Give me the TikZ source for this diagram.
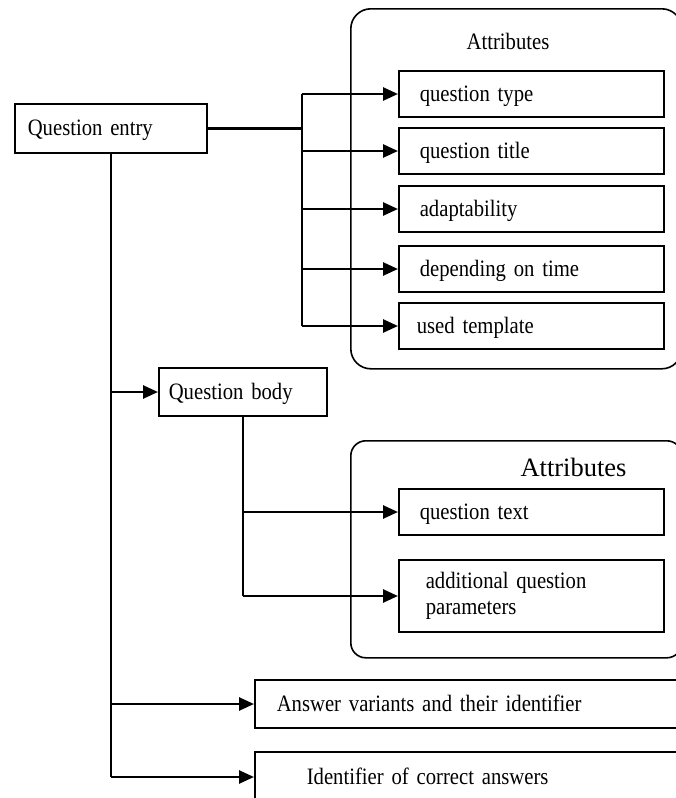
\documentclass[tikz,border=0pt]{standalone}
\usepackage{fontspec}
\setmainfont{Liberation Serif}[FakeStretch=0.88,WordSpace=0.82]
\newfontfamily\attfont{Liberation Serif}
\usetikzlibrary{arrows.meta}
\begin{document}
\begin{tikzpicture}[x=1pt,y=-1pt,
  base/.style={draw, line width=1.6pt, rectangle, inner ysep=0pt, align=left, anchor=west,
     font=\fontsize{23.5}{25.7}\selectfont},
  onel/.style={base, text height=16pt, text depth=2pt},
  abox/.style={onel, inner xsep=21pt, text width=223pt, minimum height=46pt},
  group/.style={draw, line width=1.6pt, rounded corners=#1, anchor=north west, inner sep=0pt},
  conn/.style={line width=2.6pt},
  arr/.style={conn, -{Triangle[length=15pt,width=13pt]}},
  title/.style={inner sep=0pt, font=\fontsize{23.5}{25}\selectfont}
]
\useasboundingbox (0,0) rectangle (676,798);
\clip (0,0) rectangle (676,798);

% containers
\node[group=20pt, minimum width=331pt, minimum height=360pt] (grp1) at (350,8) {};
\node[group=15pt, minimum width=331pt, minimum height=217pt] (grp2) at (350,440) {};
\node[title, anchor=base] (att1) at (508,49) {Attributes};
\node[title, font=\attfont\fontsize{26.5}{30}\selectfont, anchor=base] (att2) at (573.5,476) {Attributes};

% main boxes
\node[onel, inner xsep=13pt, text width=166pt, minimum height=49pt] (qentry) at (14,128.5) {Question entry};
\node[onel, inner xsep=10pt, text width=148pt, minimum height=48pt] (qbody) at (158,392) {Question body};

% attribute boxes
\node[abox] (qtype) at (398,94) {question type};
\node[abox] (qtitle) at (398,151) {question title};
\node[abox] (adapt) at (398,209) {adaptability};
\node[abox] (dep) at (398,269) {depending on time};
\node[abox, inner xsep=18pt, text width=229pt] (used) at (398,326) {used template};

\node[abox] (qtext) at (398,512) {question text};
\node[base, inner xsep=27pt, text width=211pt, minimum height=72pt] (addp) at (398,596) {additional question\\parameters};

% answer boxes
\node[onel, inner xsep=22pt, text width=402pt, minimum height=48pt] (ansv) at (254,704) {Answer variants and their identifier};
\node[onel, inner xsep=52pt, text width=342pt, minimum height=50pt] (ident) at (254,777) {Identifier of correct answers};

% spine for question entry attributes
\coordinate (sp1) at (302,0);
\draw[conn] (qentry.east) -- (qentry.east -| sp1);
\draw[conn] (sp1 |- qtype.west) -- (sp1 |- used.west);
\foreach \n in {qtype,qtitle,adapt,dep,used}
  \draw[arr] (sp1 |- \n.west) -- (\n.west);

% trunk
\draw[conn] (qentry.south) -- (qentry.south |- ident.west);
\draw[arr] (qentry.south |- qbody.west) -- (qbody.west);
\draw[arr] (qentry.south |- ansv.west) -- (ansv.west);
\draw[arr] (qentry.south |- ident.west) -- (ident.west);

% question body branch
\draw[conn] (qbody.south) -- (qbody.south |- addp.west);
\draw[arr] (qbody.south |- qtext.west) -- (qtext.west);
\draw[arr] (qbody.south |- addp.west) -- (addp.west);
\end{tikzpicture}
\end{document}
